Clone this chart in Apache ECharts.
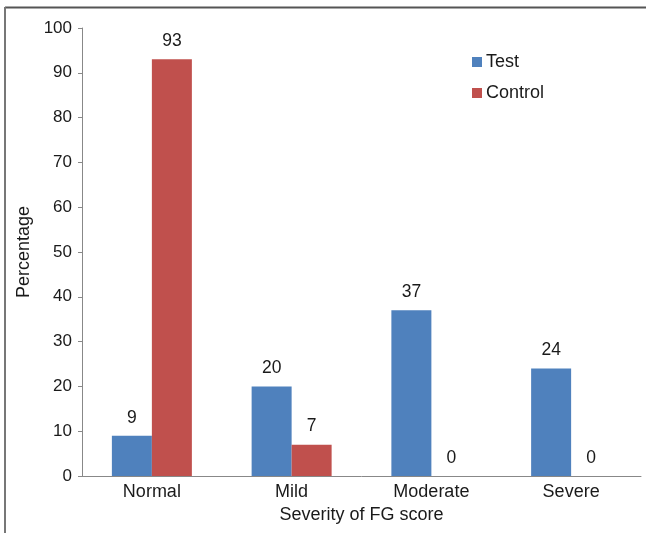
<!DOCTYPE html>
<html><head><meta charset="utf-8">
<script src="https://cdn.jsdelivr.net/npm/echarts@6/dist/echarts.min.js"></script>
<style>html,body{margin:0;padding:0;background:#fff}#c{width:646px;height:533px}</style>
</head><body><div id="c"></div>
<script>
const categories = ['Normal', 'Mild', 'Moderate', 'Severe'];
const testValues = [9, 20, 37, 24];
const controlValues = [93, 7, 0, 0];
const seriesNames = ['Test', 'Control'];

const font = 'Liberation Sans, Arial, sans-serif';
const chart = echarts.init(document.getElementById('c'), null, {renderer: 'canvas'});
const labelCfg = {show: true, position: 'top', distance: 9, color: '#1a1a1a', fontSize: 17.5, fontFamily: font};
chart.setOption({
  animation: false,
  backgroundColor: '#fff',
  graphic: [
    {type: 'line', shape: {x1: 5, y1: 7.5, x2: 646, y2: 7.5}, style: {stroke: '#555', lineWidth: 2}},
    {type: 'line', shape: {x1: 5, y1: 7, x2: 5, y2: 533}, style: {stroke: '#777', lineWidth: 2}}
  ],
  legend: {
    orient: 'vertical', left: 467, top: 48,
    itemWidth: 10, itemHeight: 10, itemGap: 13,
    icon: 'rect',
    textStyle: {fontSize: 18, fontFamily: font, color: '#1a1a1a', padding: [0, 0, 0, -1]},
    data: seriesNames
  },
  grid: {left: 82, right: 5, top: 28, bottom: 57, containLabel: false},
  xAxis: {
    type: 'category', data: categories,
    axisLine: {lineStyle: {color: '#888', width: 1}},
    axisTick: {show: false},
    axisLabel: {color: '#1a1a1a', fontSize: 18, fontFamily: font, margin: 7},
    name: 'Severity of FG score', nameLocation: 'middle', nameGap: 30,
    nameTextStyle: {color: '#1a1a1a', fontSize: 18, fontFamily: font}
  },
  yAxis: {
    type: 'value', min: 0, max: 100, interval: 10,
    axisLine: {show: true, lineStyle: {color: '#888', width: 1}},
    axisTick: {show: true, length: 4, lineStyle: {color: '#888'}},
    splitLine: {show: false},
    axisLabel: {color: '#1a1a1a', fontSize: 17, fontFamily: font, margin: 10},
    name: 'Percentage', nameLocation: 'middle', nameGap: 46, nameRotate: 90,
    nameTextStyle: {color: '#1a1a1a', fontSize: 18, fontFamily: font}
  },
  series: [
    {name: seriesNames[0], type: 'bar', data: testValues, barWidth: 40, barGap: '0%',
     itemStyle: {color: '#4F81BD'}, label: labelCfg},
    {name: seriesNames[1], type: 'bar', data: controlValues, barWidth: 40, barGap: '0%',
     itemStyle: {color: '#C0504D'}, label: labelCfg}
  ]
});
</script></body></html>
